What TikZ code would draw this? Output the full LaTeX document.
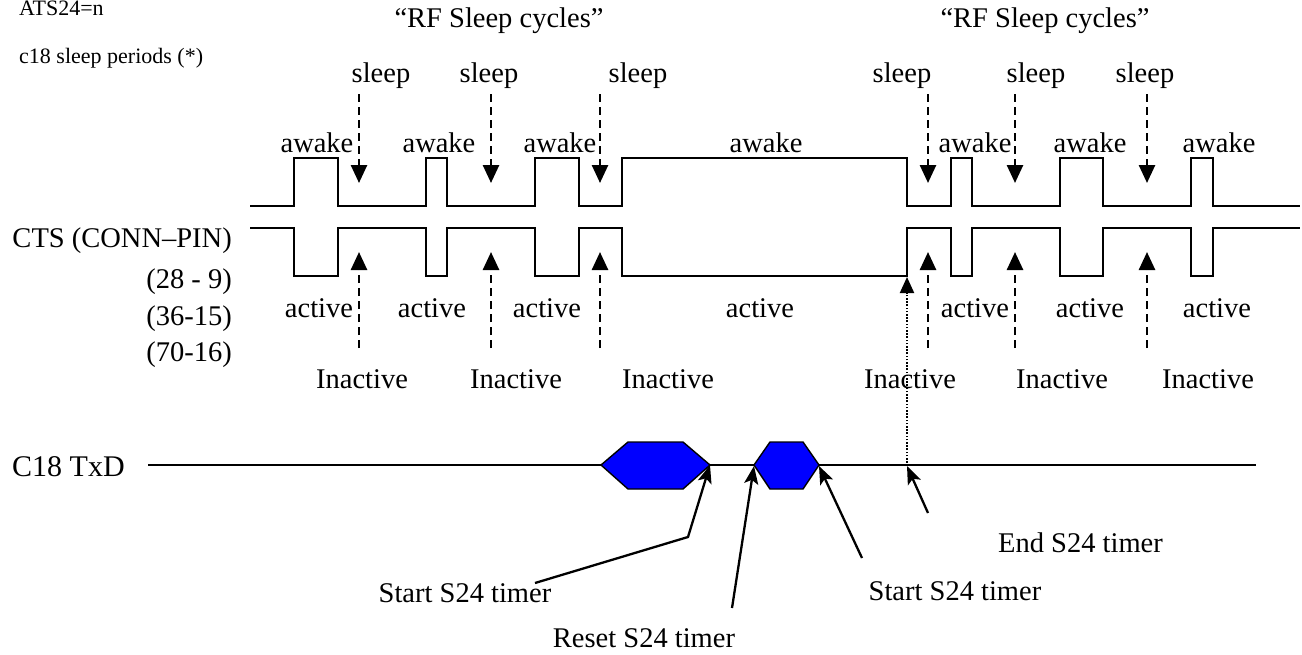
\documentclass[tikz,border=0pt]{standalone}
\usepackage{fontspec}
\setmainfont{Liberation Serif}
\usetikzlibrary{arrows.meta}
\begin{document}
\begin{tikzpicture}[x=1pt,y=-1pt,
  lbl/.style={font=\fontsize{28.5}{34}\selectfont, inner sep=0pt, anchor=base},
  small/.style={font=\fontsize{22}{26}\selectfont, inner sep=0pt, anchor=base west},
  wave/.style={line width=2.3pt, line join=miter},
  dasharrow/.style={line width=2.6pt, dash pattern=on 8pt off 5pt, -{Triangle[length=18pt,width=16pt]}},
  ptr/.style={line width=2.3pt, -{Stealth[length=18pt,width=14pt,inset=4pt]}},
  dotarrow/.style={line width=2pt, dash pattern=on 1.6pt off 1.6pt, -{Triangle[length=16pt,width=14pt]}},
  packet/.style={draw=black, line width=1.4pt, fill=blue, line join=miter}
]
\useasboundingbox (0,0) rectangle (1302,654);

% header notes
\node[small] (ats) at (19,15) {ATS24=n};
\node[small] (per) at (19,63) {c18 sleep periods (*)};

% cycle titles
\node[lbl] (rf1) at (499,27) {“RF Sleep cycles”};
\node[lbl] (rf2) at (1045,27) {“RF Sleep cycles”};

% sleep labels
\foreach \i/\x in {1/381,2/489,3/638,4/902,5/1036,6/1145}
  \node[lbl] (sl\i) at (\x,82) {sleep};

% awake labels
\foreach \i/\x in {1/317,2/439,3/560,4/766,5/975,6/1090,7/1219}
  \node[lbl] (aw\i) at (\x,152) {awake};

% RF state waveform
\draw[wave] (250,206) -- (294,206) -- (294,158) -- (338,158) -- (338,206)
  -- (426,206) -- (426,158) -- (447,158) -- (447,206)
  -- (535,206) -- (535,158) -- (579,158) -- (579,206)
  -- (622,206) -- (622,158) -- (907,158) -- (907,206)
  -- (951,206) -- (951,158) -- (972,158) -- (972,206)
  -- (1060,206) -- (1060,158) -- (1103,158) -- (1103,206)
  -- (1191,206) -- (1191,158) -- (1213,158) -- (1213,206) -- (1300,206);

% CTS waveform
\draw[wave] (250,228) -- (294,228) -- (294,276) -- (338,276) -- (338,228)
  -- (426,228) -- (426,276) -- (447,276) -- (447,228)
  -- (535,228) -- (535,276) -- (579,276) -- (579,228)
  -- (622,228) -- (622,276) -- (907,276) -- (907,228)
  -- (951,228) -- (951,276) -- (972,276) -- (972,228)
  -- (1060,228) -- (1060,276) -- (1103,276) -- (1103,228)
  -- (1191,228) -- (1191,276) -- (1213,276) -- (1213,228) -- (1300,228);

% sleep / inactive markers
\foreach \i/\x in {1/359,2/491,3/600,4/928,5/1015,6/1147}{
  \coordinate (st\i) at (\x,94);
  \coordinate (sb\i) at (\x,183);
  \coordinate (it\i) at (\x,252);
  \coordinate (ib\i) at (\x,348);
  \draw[dasharrow] (st\i) -- (sb\i);
  \draw[dasharrow] (ib\i) -- (it\i);
}

% signal names
\node[lbl, anchor=base east] (cts) at (232,247) {CTS (CONN–PIN)};
\node[lbl, anchor=base east] (p1) at (232,288) {(28 - 9)};
\node[lbl, anchor=base east] (p2) at (232,325) {(36-15)};
\node[lbl, anchor=base east] (p3) at (232,361) {(70-16)};

% active labels
\foreach \i/\x in {1/319,2/432,3/547,4/760,5/975,6/1090,7/1217}
  \node[lbl] (ac\i) at (\x,317) {active};

% inactive labels
\foreach \i/\x in {1/362,2/516,3/668,4/910,5/1062,6/1208}
  \node[lbl] (in\i) at (\x,388) {Inactive};

% TxD line
\node[lbl, anchor=base west, font=\fontsize{30}{36}\selectfont] (txd) at (12,476) {C18 TxD};
\coordinate (txa) at (148,465);
\coordinate (txb) at (1256,465);
\draw[line width=1.8pt] (txa) -- (txb);

% data packets
\draw[packet] (601,465) -- (628,442) -- (683,442) -- (710,465) -- (683,489) -- (628,489) -- cycle;
\draw[packet] (754,465) -- (770,442) -- (803,442) -- (819,465) -- (803,489) -- (770,489) -- cycle;
\coordinate (pk1r) at (710,465);
\coordinate (pk2l) at (754,466);
\coordinate (pk2r) at (819,466);
\coordinate (endt) at (907,466);
\coordinate (ctsl) at (907,277);

% timer event pointers
\node[lbl] (start1) at (465,602) {Start S24 timer};
\node[lbl] (reset) at (644,647) {Reset S24 timer};
\node[lbl] (start2) at (955,600) {Start S24 timer};
\node[lbl, anchor=base west] (endl) at (998,552) {End S24 timer};

\coordinate (s1a) at (535,583);
\coordinate (s1b) at (688,537);
\coordinate (r1a) at (732,608);
\coordinate (s2a) at (862,558);
\coordinate (e1a) at (928,513);

\draw[ptr] (s1a) -- (s1b) -- (pk1r);
\draw[ptr] (r1a) -- (pk2l);
\draw[ptr] (s2a) -- (pk2r);
\draw[ptr] (e1a) -- (endt);
\draw[dotarrow] (endt) -- (ctsl);
\end{tikzpicture}
\end{document}
